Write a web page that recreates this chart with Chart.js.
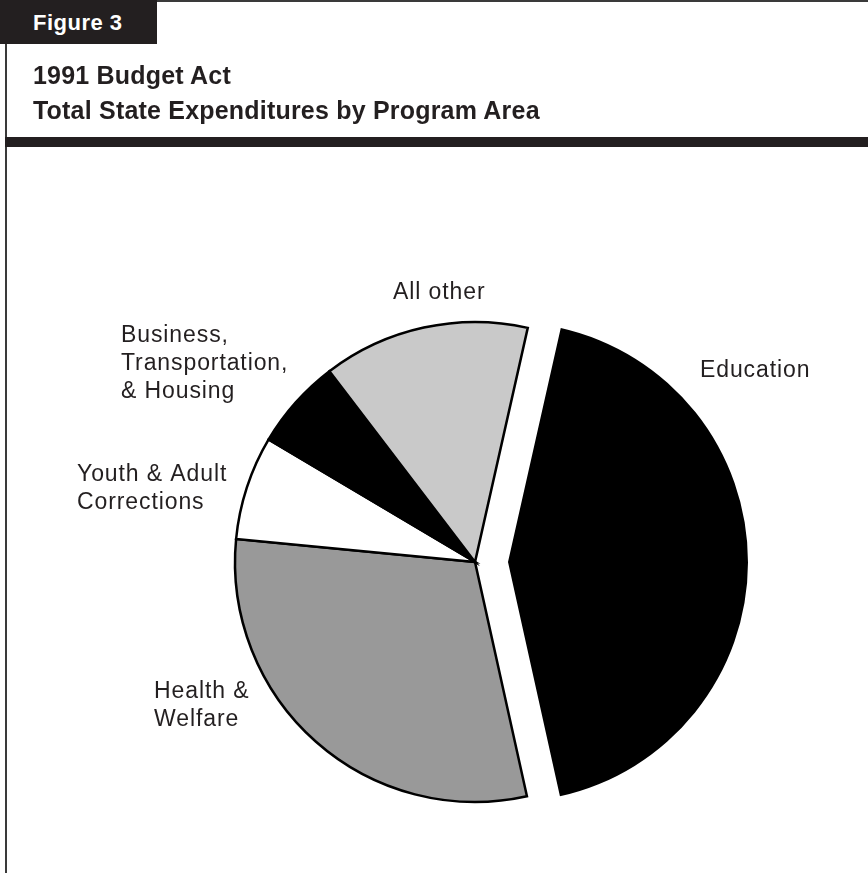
<!DOCTYPE html>
<html>
<head>
<meta charset="utf-8">
<script src="https://cdn.jsdelivr.net/npm/chart.js@4"></script>
<style>
  html, body { margin: 0; padding: 0; background: #fff; overflow: hidden; }
  body { width: 868px; height: 873px; position: relative; font-family: "Liberation Sans", Arial, sans-serif; color: #231f20; }
  #pie { position: absolute; left: 0; top: 0; }
  .frame-left { position: absolute; left: 5px; top: 44px; width: 1.5px; height: 829px; background: #3a3a3a; }
  .frame-top { position: absolute; left: 157px; top: 0; right: 0; height: 1.5px; background: #3a3a3a; }
  .fig-tab { position: absolute; left: 0; top: 0; width: 157px; height: 44px; background: #231f20; }
  .fig-tab span { position: absolute; left: 33px; top: 12px; font-size: 22px; line-height: 22px; font-weight: bold; color: #fff; letter-spacing: 0.5px; white-space: nowrap; }
  .title { position: absolute; left: 33px; top: 58px; font-size: 25px; line-height: 35px; font-weight: bold; letter-spacing: 0.2px; white-space: nowrap; }
  .rule { position: absolute; left: 5px; right: 0; top: 137px; height: 10px; background: #231f20; }
</style>
</head>
<body>
<canvas id="pie" width="868" height="873"></canvas>
<div class="frame-top"></div>
<div class="frame-left"></div>
<div class="fig-tab"><span>Figure 3</span></div>
<div class="title">1991 Budget Act<br>Total State Expenditures by Program Area</div>
<div class="rule"></div>
<script>
// share of total state spending, percent
const programAreas = ['Education', 'Health & Welfare', 'Youth & Adult Corrections', 'Business, Transportation, & Housing', 'All other'];
const shares = [43.0, 30.0, 7.0, 6.1, 13.9];
const sliceColors = ['#000000', '#999999', '#ffffff', '#000000', '#c9c9c9'];
const labelLines = [
  ['Education'],
  ['Health &', 'Welfare'],
  ['Youth & Adult', 'Corrections'],
  ['Business,', 'Transportation,', '& Housing'],
  ['All other'],
];

// pulls a slice out along its bisector without growing it
const explodePlugin = {
  id: 'explode',
  afterDatasetsUpdate(chart, args, opts) {
    const meta = chart.getDatasetMeta(0);
    meta.data.forEach((arc, i) => {
      const d = opts.distance[i] || 0;
      if (!d) return;
      const mid = (arc.startAngle + arc.endAngle) / 2;
      arc.x += Math.cos(mid) * d;
      arc.y += Math.sin(mid) * d;
    });
  },
};

const sliceLabels = {
  id: 'sliceLabels',
  afterDraw(chart, args, opts) {
    const { ctx } = chart;
    ctx.save();
    ctx.font = '23px "Liberation Sans", Arial, sans-serif';
    ctx.letterSpacing = '0.9px';
    ctx.fillStyle = '#231f20';
    ctx.textAlign = 'left';
    ctx.textBaseline = 'alphabetic';
    labelLines.forEach((lines, i) => {
      const [x, y] = opts.anchors[i];
      lines.forEach((line, k) => ctx.fillText(line, x, y + k * opts.lineHeight));
    });
    ctx.restore();
  },
};

new Chart(document.getElementById('pie').getContext('2d'), {
  type: 'pie',
  data: {
    labels: programAreas,
    datasets: [
      {
        data: shares,
        backgroundColor: sliceColors,
        borderColor: '#000000',
        borderWidth: [0, 2.5, 2.5, 2.5, 2.5],
        borderJoinStyle: 'miter',
      },
    ],
  },
  options: {
    responsive: false,
    animation: false,
    events: [],
    rotation: 12.7,
    radius: 240,
    layout: { padding: { left: 215, right: 133, top: 302, bottom: 51 } },
    plugins: {
      legend: { display: false },
      tooltip: { enabled: false },
      explode: { distance: [33, 0, 0, 0, 0] },
      sliceLabels: {
        lineHeight: 28,
        anchors: [[700, 377], [154, 698], [77, 481], [121, 342], [393, 299]],
      },
    },
  },
  plugins: [explodePlugin, sliceLabels],
});
</script>
</body>
</html>
